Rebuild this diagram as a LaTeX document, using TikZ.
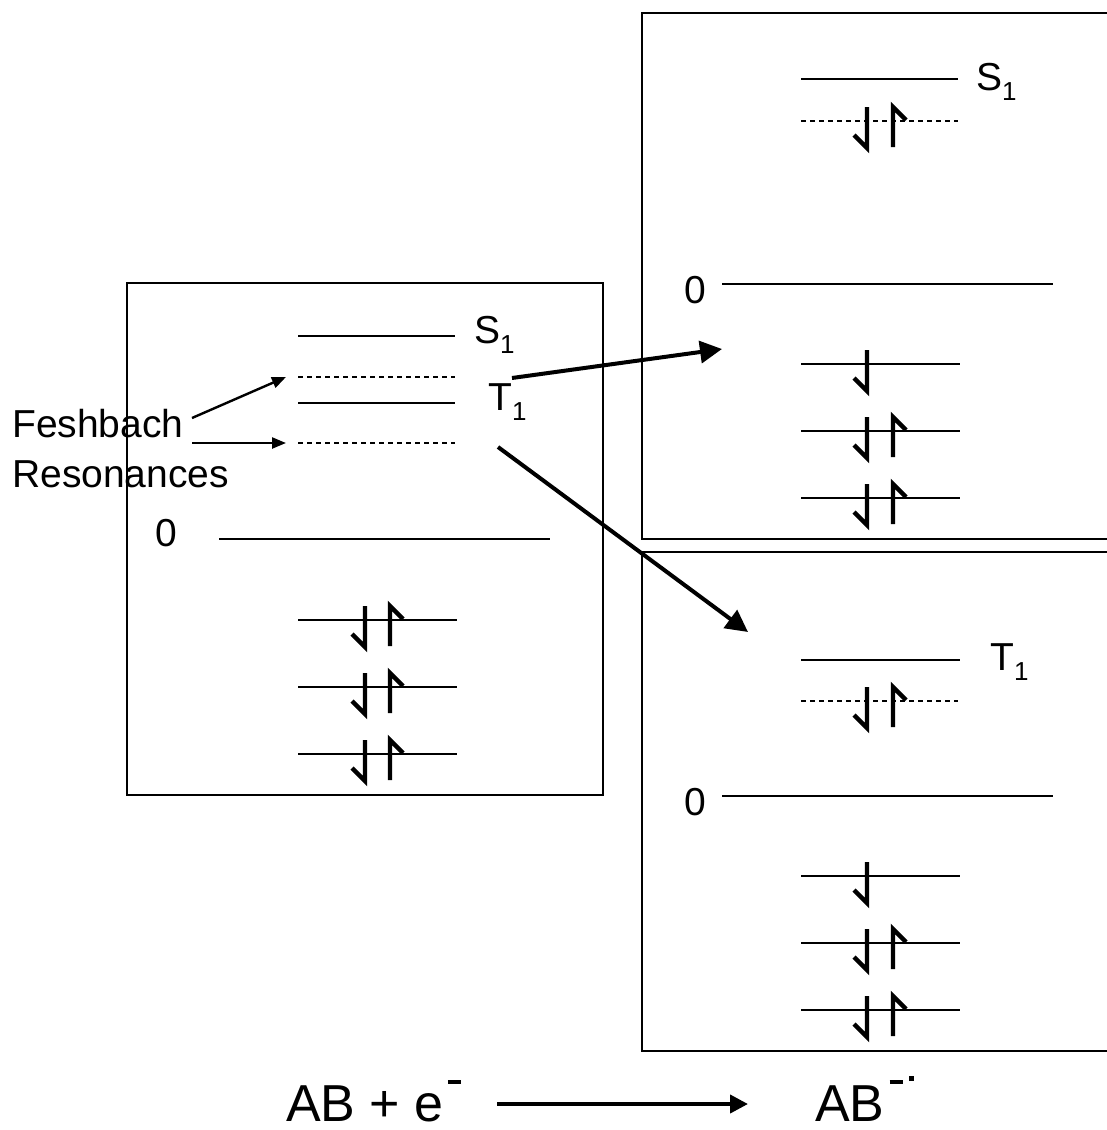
\documentclass[tikz,border=0pt]{standalone}
\usepackage{fontspec}
\setmainfont{Liberation Sans}
\usetikzlibrary{arrows.meta, positioning, calc}
\newcommand\sub[1]{\raisebox{-10pt}{\fontsize{26}{26}\selectfont #1}}
\tikzset{
    dnspin/.pic={\draw[spin] (0,-14) -- (0,27) -- (-13,14);},
    upspin/.pic={\draw[spin] (0,26) -- (0,-14) -- (13,-1);}
}

\begin{document}
\begin{tikzpicture}[x=1pt, y=-1pt,
    every node/.style={inner sep=0pt, font=\fontsize{39}{50}\selectfont},
    box/.style={draw, line width=1.6pt},
    level/.style={line width=1.8pt},
    resonance/.style={line width=1.2pt, dash pattern=on 5pt off 4pt},
    spin/.style={line width=4.4pt, line join=miter},
    jump/.style={line width=4pt, -{Triangle[length=22pt, width=22pt]}},
    pointer/.style={line width=2.4pt, -{Triangle[length=14pt, width=11pt]}},
    big/.style={font=\fontsize{52}{60}\selectfont}]
    \useasboundingbox (0,0) rectangle (1107,1130);

    % neutral molecule
    \draw[box] (127,283) rectangle (603,795);
    \draw[level] (298,336) -- (455,336);
    \draw[resonance] (298,377) -- (455,377);
    \draw[level] (298,403) -- (455,403);
    \draw[resonance] (298,443) -- (455,443);
    \draw[level] (219,539) -- (550,539);
    \node[anchor=base west] (zeroA) at (155,546) {0};
    \node[anchor=base west] (singletA) at (474,343) {S\sub{1}};
    \node[anchor=base west] (tripletA) at (488,410) {T\sub{1}};
    \foreach \y in {620,687,754} {
        \draw[level] (298,\y) -- (457,\y);
        \pic at (365,\y) {dnspin};
        \pic at (390,\y) {upspin};
    }

    % Feshbach resonances
    \node[anchor=base west, align=left] (feshbach) at (12,487) {Feshbach\\Resonances};
    \coordinate (resA) at (286,377);
    \coordinate (resB) at (286,443);
    \coordinate (fromA) at (192,418);
    \coordinate (fromB) at (192,443);
    \draw[pointer] (fromA) -- (resA);
    \draw[pointer] (fromB) -- (resB);

    % anion, singlet
    \draw[box] (642,13) rectangle (1115,539);
    \draw[level] (801,79) -- (958,79);
    \node[anchor=base west] (singletB) at (976,90) {S\sub{1}};
    \draw[resonance] (801,121) -- (958,121);
    \pic at (867,121) {dnspin};
    \pic at (893,121) {upspin};
    \draw[level] (722,284) -- (1053,284);
    \node[anchor=base west] (zeroB) at (684,303) {0};
    \draw[level] (801,364) -- (960,364);
    \pic at (867,364) {dnspin};
    \foreach \y in {431,498} {
        \draw[level] (801,\y) -- (960,\y);
        \pic at (867,\y) {dnspin};
        \pic at (893,\y) {upspin};
    }

    % anion, triplet
    \draw[box] (642,552) rectangle (1115,1051);
    \draw[level] (801,660) -- (960,660);
    \node[anchor=base west] (tripletB) at (990,670) {T\sub{1}};
    \draw[resonance] (801,701) -- (958,701);
    \pic at (867,701) {dnspin};
    \pic at (893,701) {upspin};
    \draw[level] (722,796) -- (1053,796);
    \node[anchor=base west] (zeroC) at (684,815) {0};
    \draw[level] (801,876) -- (960,876);
    \pic at (867,876) {dnspin};
    \foreach \y in {943,1010} {
        \draw[level] (801,\y) -- (960,\y);
        \pic at (867,\y) {dnspin};
        \pic at (893,\y) {upspin};
    }

    % capture into the two anion states
    \coordinate (fromS) at (512,378);
    \coordinate (toS) at (722,349);
    \coordinate (fromT) at (498,447);
    \coordinate (toT) at (748,632);
    \draw[jump] (fromS) -- (toS);
    \draw[jump] (fromT) -- (toT);

    % reaction
    \node[anchor=base west, big] (reactant) at (286,1121)
        {AB + e\hspace{4pt}\rule[37pt]{13pt}{4pt}};
    \node[anchor=base west, big] (product) at (815,1121)
        {AB\hspace{5pt}\rule[37pt]{13pt}{4pt}\hspace{6pt}\rule[40pt]{5pt}{5pt}};
    \coordinate (react) at (497,1104);
    \coordinate (prod) at (748,1104);
    \draw[line width=4pt, -{Triangle[length=18pt, width=18pt]}] (react) -- (prod);
\end{tikzpicture}
\end{document}
